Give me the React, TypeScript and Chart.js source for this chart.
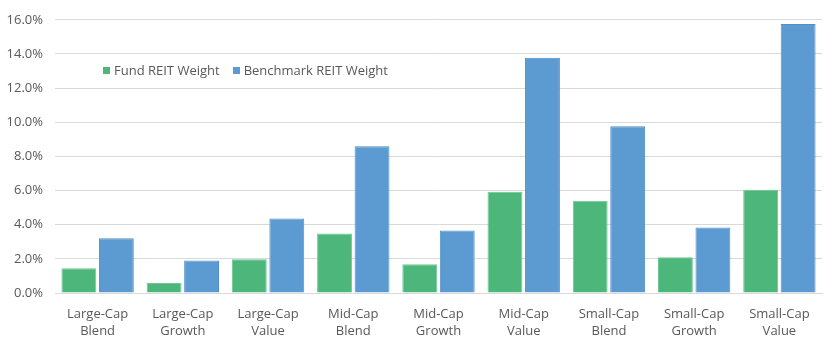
import React, { useEffect, useRef } from "react";
import { Chart, registerables } from "chart.js";

Chart.register(...registerables);

const categories: string[][] = [
  ["Large-Cap", "Blend"],
  ["Large-Cap", "Growth"],
  ["Large-Cap", "Value"],
  ["Mid-Cap", "Blend"],
  ["Mid-Cap", "Growth"],
  ["Mid-Cap", "Value"],
  ["Small-Cap", "Blend"],
  ["Small-Cap", "Growth"],
  ["Small-Cap", "Value"],
];
const fundWeight: number[] = [1.45, 0.58, 1.97, 3.49, 1.69, 5.93, 5.4, 2.09, 6.05];
const benchmarkWeight: number[] = [3.2, 1.9, 4.36, 8.6, 3.66, 13.78, 9.77, 3.83, 15.76];
const seriesNames: string[] = ["Fund REIT Weight", "Benchmark REIT Weight"];
const seriesColors: string[] = ["#4db67a", "#5b9bd1"];

const FONT = "'Open Sans', sans-serif";
const TEXT = "#595959";

export default function App() {
  const ref = useRef<HTMLCanvasElement | null>(null);
  useEffect(() => {
    if (!ref.current) return;
    const chart = new Chart(ref.current, {
      type: "bar",
      data: {
        labels: categories,
        datasets: [
          {
            label: seriesNames[0],
            data: fundWeight,
            backgroundColor: seriesColors[0],
            borderColor: "#6fc795",
            borderWidth: 1,
          },
          {
            label: seriesNames[1],
            data: benchmarkWeight,
            backgroundColor: seriesColors[1],
            borderColor: "#4f8fc7",
            borderWidth: 1,
          },
        ],
      },
      options: {
        animation: false,
        responsive: false,
        maintainAspectRatio: false,
        layout: { padding: { top: 18, right: 18, bottom: 0, left: 0 } },
        plugins: { legend: { display: false }, tooltip: { enabled: false } },
        datasets: { bar: { categoryPercentage: 0.88, barPercentage: 0.93 } },
        scales: {
          x: {
            grid: { display: false },
            border: { display: true, color: "#d9d9d9" },
            ticks: {
              color: TEXT,
              font: { family: FONT, size: 13, lineHeight: 1.3 },
              padding: 5,
              maxRotation: 0,
              autoSkip: false,
            },
            afterFit: (s: any) => {
              s.height = 63;
            },
          },
          y: {
            min: 0,
            max: 16,
            grid: { color: "#d9d9d9", drawTicks: false },
            border: { display: false },
            ticks: {
              stepSize: 2,
              color: TEXT,
              padding: 12,
              font: { family: FONT, size: 13 },
              callback: (v: any) => Number(v).toFixed(1) + "%",
            },
            afterFit: (s: any) => {
              s.width = 55;
            },
          },
        },
      },
    });
    return () => chart.destroy();
  }, []);

  const legendItem = (i: number) => (
    <span style={{ display: "inline-flex", alignItems: "center", marginRight: 13 }}>
      <span
        style={{
          width: 7,
          height: 7,
          background: seriesColors[i],
          display: "inline-block",
          marginRight: 4,
        }}
      />
      <span>{seriesNames[i]}</span>
    </span>
  );

  return (
    <div style={{ position: "absolute", left: 0, top: 0, width: 840, height: 356, background: "#fff" }}>
      <canvas ref={ref} width={840} height={356} style={{ display: "block" }} />
      <div
        style={{
          position: "absolute",
          left: 103,
          top: 61,
          fontFamily: FONT,
          fontSize: 13,
          color: TEXT,
          lineHeight: "18px",
          whiteSpace: "nowrap",
          display: "flex",
        }}
      >
        {legendItem(0)}
        {legendItem(1)}
      </div>
    </div>
  );
}
